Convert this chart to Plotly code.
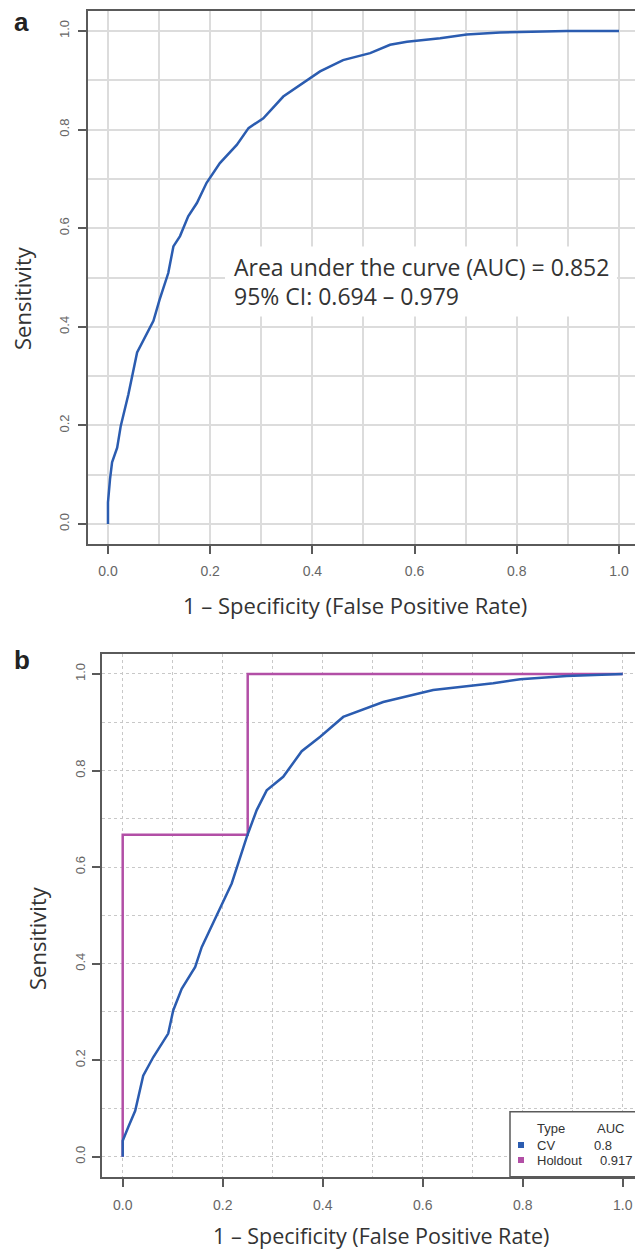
import plotly.graph_objects as go

# ---------------- data ----------------
# Panel a: ROC curve
fpr_a = [0.0, 0.0, 0.004, 0.008, 0.018, 0.025, 0.040, 0.057, 0.089, 0.101, 0.118, 0.128, 0.141,
         0.157, 0.174, 0.193, 0.219, 0.252, 0.275, 0.304, 0.343, 0.376, 0.415, 0.460, 0.513,
         0.552, 0.585, 0.650, 0.702, 0.767, 0.898, 1.0]
tpr_a = [0.0, 0.044, 0.091, 0.125, 0.155, 0.199, 0.263, 0.348, 0.412, 0.455, 0.509, 0.563, 0.584,
         0.624, 0.651, 0.692, 0.732, 0.769, 0.803, 0.823, 0.867, 0.890, 0.918, 0.941, 0.955,
         0.972, 0.978, 0.985, 0.993, 0.997, 1.0, 1.0]
auc_text = ["Area under the curve (AUC) = 0.852", "95% CI: 0.694 \u2013 0.979"]

# Panel b: CV and Holdout ROC curves
cv_fpr = [0.0, 0.0, 0.011, 0.025, 0.041, 0.061, 0.091, 0.101, 0.118, 0.145, 0.158, 0.183,
          0.218, 0.248, 0.268, 0.288, 0.321, 0.358, 0.395, 0.441, 0.521, 0.621, 0.741,
          0.795, 0.888, 1.0]
cv_tpr = [0.0, 0.033, 0.061, 0.095, 0.168, 0.206, 0.255, 0.303, 0.348, 0.393, 0.434, 0.490,
          0.566, 0.662, 0.718, 0.759, 0.787, 0.840, 0.870, 0.911, 0.942, 0.967, 0.981,
          0.989, 0.996, 1.0]
holdout_fpr = [0.0, 0.0, 0.25, 0.25, 1.0]
holdout_tpr = [0.0, 0.667, 0.667, 1.0, 1.0]
legend_types = ["CV", "Holdout"]
legend_auc = ["0.8", "0.917"]

tick_vals = [0.0, 0.2, 0.4, 0.6, 0.8, 1.0]
tick_text = ["0.0", "0.2", "0.4", "0.6", "0.8", "1.0"]

BLUE = "#2b5cb0"
MAGENTA = "#b24fa6"
W, H = 635, 1249

def px_x(p):
    return p / W

def px_y(p):
    return 1 - p / H

fig = go.Figure()
fig.add_trace(go.Scatter(x=fpr_a, y=tpr_a, mode="lines", line=dict(color=BLUE, width=2.5),
                         xaxis="x", yaxis="y", showlegend=False))
fig.add_trace(go.Scatter(x=holdout_fpr, y=holdout_tpr, mode="lines",
                         line=dict(color=MAGENTA, width=2.5), xaxis="x2", yaxis="y2",
                         showlegend=False))
fig.add_trace(go.Scatter(x=cv_fpr, y=cv_tpr, mode="lines", line=dict(color=BLUE, width=2.5),
                         xaxis="x2", yaxis="y2", showlegend=False))

tickfont = dict(family="Liberation Sans, Arial", size=14, color="#666666")
ytickfont = dict(family="Liberation Sans, Arial", size=13, color="#666666")
AXC = "#5a5a5a"

common_x = dict(tickvals=tick_vals, ticktext=tick_text, ticks="outside", ticklen=8, tickwidth=1.5,
                tickcolor=AXC, showline=True, linecolor=AXC, linewidth=2, mirror=True,
                zeroline=False, tickfont=tickfont, fixedrange=True, ticklabelstandoff=6)
common_y = dict(tickvals=tick_vals, ticktext=tick_text, ticks="outside", ticklen=8, tickwidth=1.5,
                tickcolor=AXC, showline=True, linecolor=AXC, linewidth=2, mirror=False,
                zeroline=False, tickfont=ytickfont, tickangle=-90, fixedrange=True)

grid_a = dict(showgrid=True, gridcolor="#dcdcdc", gridwidth=1.5,
              minor=dict(dtick=0.1, showgrid=True, gridcolor="#dcdcdc", gridwidth=1.5, ticks=""))
grid_b = dict(showgrid=True, gridcolor="#c8c8c8", gridwidth=1, griddash="dot",
              minor=dict(dtick=0.1, showgrid=True, gridcolor="#c8c8c8", gridwidth=1,
                         griddash="dot", ticks=""))

fig.update_layout(
    width=W, height=H, margin=dict(l=0, r=0, t=0, b=0),
    paper_bgcolor="white", plot_bgcolor="white", showlegend=False,
    xaxis=dict(domain=[px_x(88), 1.0], range=[-0.0391, (635 - 108) / 511], anchor="y",
               **common_x, **grid_a),
    yaxis=dict(domain=[px_y(543.5), px_y(11)], range=[-0.0395, 1.0405], anchor="x",
               ticklabelstandoff=4, **common_y, **grid_a),
    xaxis2=dict(domain=[px_x(101.7), 1.0], range=[-0.042, (635 - 122.7) / 500], anchor="y2",
                **common_x, **grid_b),
    yaxis2=dict(domain=[px_y(1176.7), px_y(654)], range=[-0.0414, 1.0414], anchor="x2",
                ticklabelstandoff=2, **common_y, **grid_b),
)

shapes = []
# white box behind the AUC text (panel a)
shapes.append(dict(type="rect", xref="x", yref="y", x0=0.229, x1=0.996, y0=0.421, y1=0.563,
                   fillcolor="white", line=dict(width=0), layer="between"))
# legend box (panel b)
shapes.append(dict(type="rect", xref="paper", yref="paper", x0=px_x(510), x1=px_x(660),
                   y0=px_y(1176.7), y1=px_y(1111.7), fillcolor="white",
                   line=dict(color=AXC, width=1.5), layer="above"))
legend_rows_y = [1145, 1160]
for yy, col in zip(legend_rows_y, [BLUE, MAGENTA]):
    shapes.append(dict(type="rect", xref="paper", yref="paper", x0=px_x(518), x1=px_x(524),
                       y0=px_y(yy + 3), y1=px_y(yy - 3), fillcolor=col, line=dict(width=0),
                       layer="above"))
fig.update_layout(shapes=shapes)

ann = []
txtfont = dict(family="Open Sans", size=23, color="#333333")
for t, yv in zip(auc_text, [0.522, 0.4616]):
    ann.append(dict(xref="x", yref="y", x=0.242, y=yv, text=t, showarrow=False,
                    xanchor="left", yanchor="middle", font=txtfont))

titlefont = dict(family="Open Sans", size=22, color="#333333")
xtitle = "1 \u2013 Specificity (False Positive Rate)"
ann.append(dict(xref="paper", yref="paper", x=px_x(355), y=px_y(605), text=xtitle,
                showarrow=False, xanchor="center", yanchor="middle", font=titlefont))
ann.append(dict(xref="paper", yref="paper", x=px_x(381), y=px_y(1235), text=xtitle,
                showarrow=False, xanchor="center", yanchor="middle",
                font=dict(family="Open Sans", size=21.5, color="#333333")))
ann.append(dict(xref="paper", yref="paper", x=px_x(22), y=px_y(298), text="Sensitivity",
                showarrow=False, xanchor="center", yanchor="middle", textangle=-90,
                font=titlefont))
ann.append(dict(xref="paper", yref="paper", x=px_x(37), y=px_y(938), text="Sensitivity",
                showarrow=False, xanchor="center", yanchor="middle", textangle=-90,
                font=titlefont))
labfont = dict(family="Liberation Sans, Arial", size=26, color="#222222")
ann.append(dict(xref="paper", yref="paper", x=px_x(21), y=px_y(22), text="<b>a</b>",
                showarrow=False, xanchor="center", yanchor="middle", font=labfont))
ann.append(dict(xref="paper", yref="paper", x=px_x(22), y=px_y(660), text="<b>b</b>",
                showarrow=False, xanchor="center", yanchor="middle", font=labfont))

legfont = dict(family="Liberation Sans, Arial", size=13, color="#333333")
ann.append(dict(xref="paper", yref="paper", x=px_x(535), y=px_y(1128), text="Type",
                showarrow=False, xanchor="left", yanchor="middle", font=legfont))
ann.append(dict(xref="paper", yref="paper", x=px_x(595), y=px_y(1128), text="AUC",
                showarrow=False, xanchor="left", yanchor="middle", font=legfont))
for yy, name, auc, xa in zip(legend_rows_y, legend_types, legend_auc, [592, 598]):
    ann.append(dict(xref="paper", yref="paper", x=px_x(535), y=px_y(yy), text=name,
                    showarrow=False, xanchor="left", yanchor="middle", font=legfont))
    ann.append(dict(xref="paper", yref="paper", x=px_x(xa), y=px_y(yy), text=auc,
                    showarrow=False, xanchor="left", yanchor="middle", font=legfont))
fig.update_layout(annotations=ann)

fig.write_html(
    "out.html",
    config={"displayModeBar": False},
    post_script="document.body.style.margin='0';document.body.style.overflow='hidden';",
)
